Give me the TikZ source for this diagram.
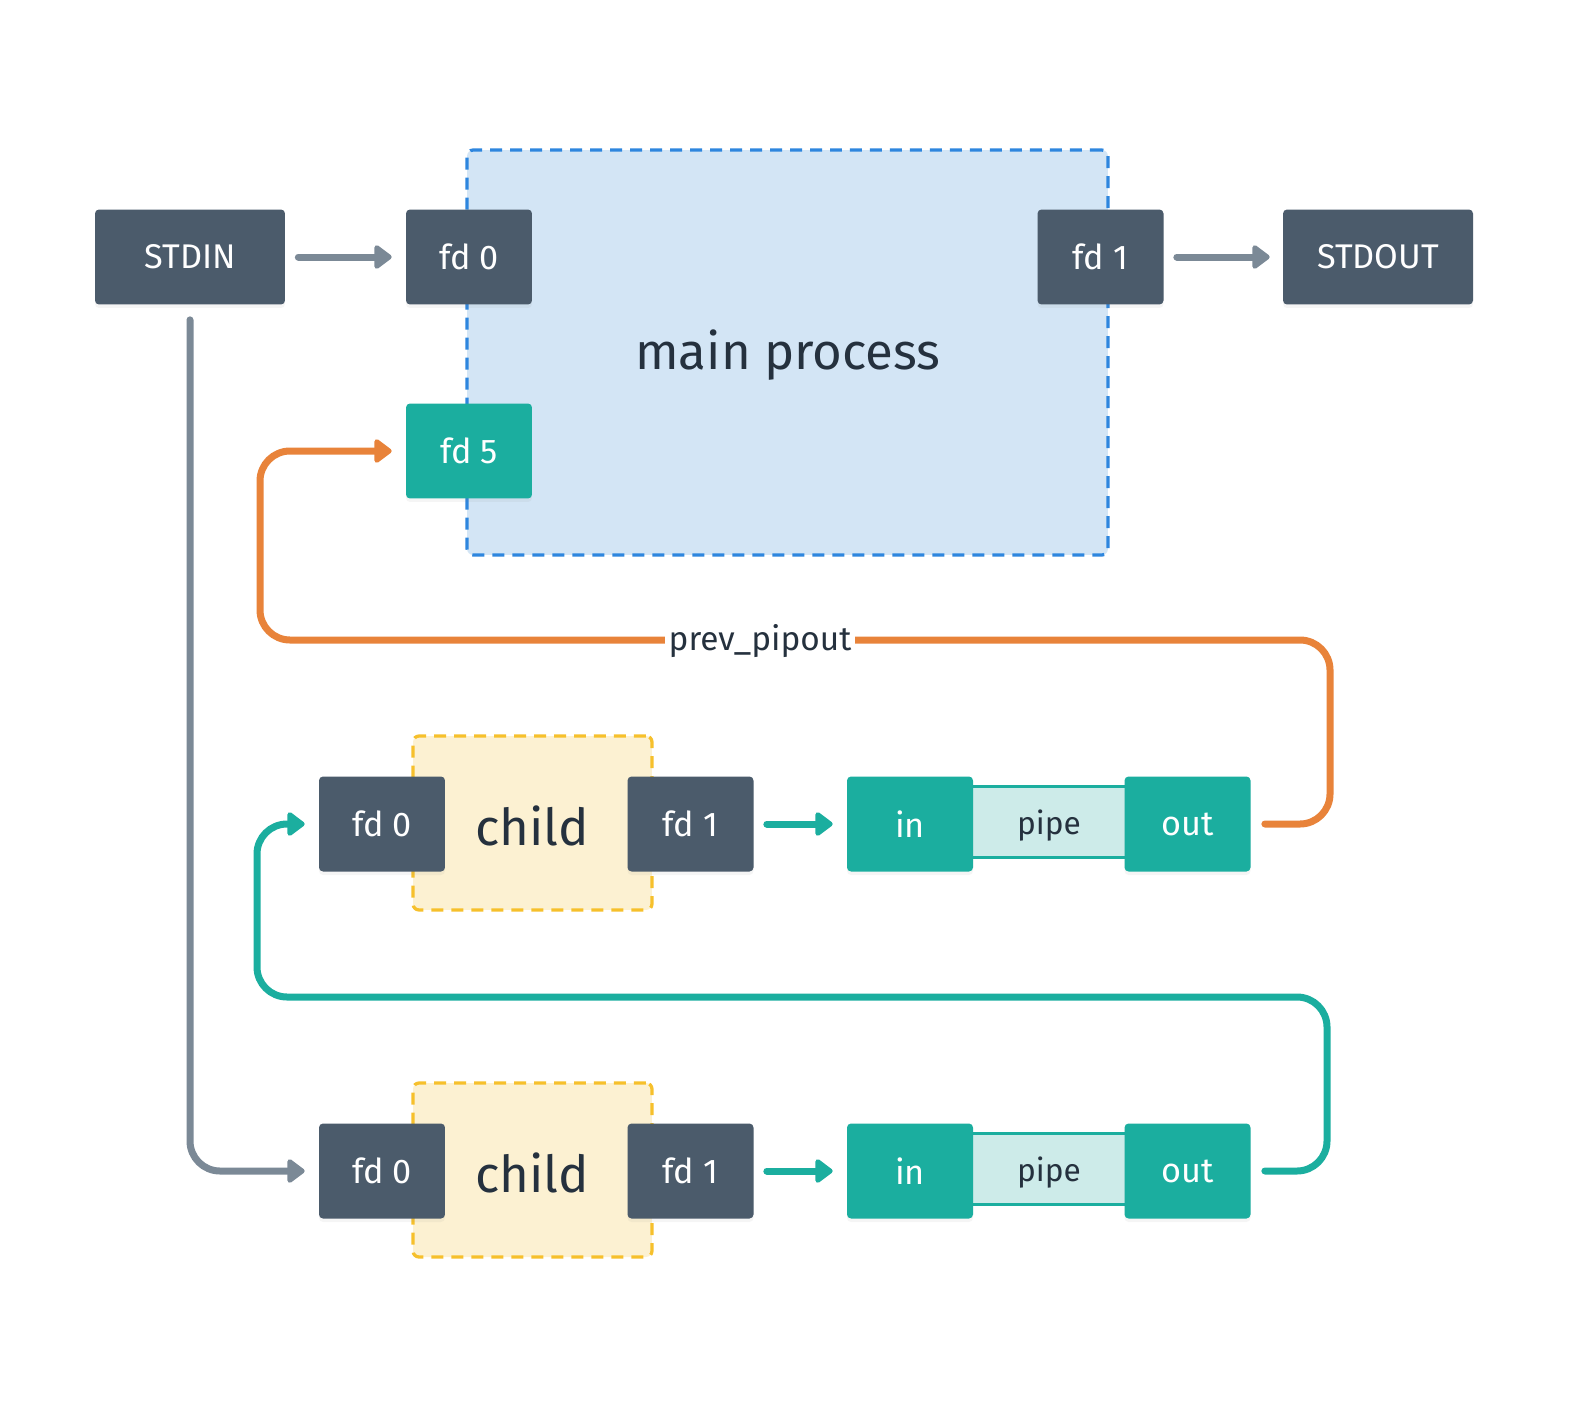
\documentclass[tikz,border=0pt]{standalone}
\usepackage{fontspec}
\setmainfont{Fira Sans}
\usetikzlibrary{arrows.meta,shadows}
\definecolor{darkbox}{HTML}{4B5B6B}
\definecolor{tealc}{HTML}{1BAE9F}
\definecolor{orangec}{HTML}{E8833A}
\definecolor{grayc}{HTML}{7B8996}
\definecolor{bluedash}{HTML}{2E86DE}
\definecolor{bluefill}{HTML}{D3E5F5}
\definecolor{yeldash}{HTML}{F6C02C}
\definecolor{yelfill}{HTML}{FCF1D2}
\definecolor{pipefill}{HTML}{CDEBE9}
\definecolor{textdark}{HTML}{25313E}
\tikzset{
  box/.style={rectangle, rounded corners=0.08cm, minimum width=2.52cm, minimum height=1.9cm,
    text=white, font=\fontsize{19.5}{24}\selectfont, inner sep=0pt,
    drop shadow={opacity=0.08, shadow xshift=0cm, shadow yshift=-0.07cm}},
  darknode/.style={box, fill=darkbox},
  tealnode/.style={box, fill=tealc},
  conn/.style={line width=0.14cm, line cap=round, rounded corners=0.6cm,
    -{Triangle[length=0.38cm, width=0.54cm, round]}},
  procbox/.style={rectangle, rounded corners=0.12cm, line width=0.065cm,
    dash pattern=on 0.24cm off 0.16cm},
  pipebox/.style={rectangle, fill=pipefill, draw=tealc, line width=0.07cm, minimum width=3.2cm,
    minimum height=1.42cm, text=textdark, text depth=0pt, font=\fontsize{18}{22}\selectfont},
}
\begin{document}
\begin{tikzpicture}[x=0.02cm, y=-0.02cm]
% main process
\node[procbox, draw=bluedash, fill=bluefill, minimum width=12.82cm, minimum height=8.1cm] (main) at (787.5,352.5) {};
\node[text=textdark, font=\fontsize{29}{34}\selectfont] (maintxt) at (788,355) {main process};
% child boxes
\node[procbox, draw=yeldash, fill=yelfill, minimum width=4.78cm, minimum height=3.48cm] (child1) at (532.5,823) {};
\node[text=textdark, font=\fontsize{29}{34}\selectfont] (child1txt) at (532,826) {child};
\node[procbox, draw=yeldash, fill=yelfill, minimum width=4.78cm, minimum height=3.48cm] (child2) at (532.5,1170) {};
\node[text=textdark, font=\fontsize{29}{34}\selectfont] (child2txt) at (532,1173) {child};
% pipes
\node[pipebox] (pipe1) at (1049,822) {pipe};
\node[pipebox] (pipe2) at (1049,1169) {pipe};
% top row
\node[darknode, minimum width=3.8cm] (stdin) at (190,257) {STDIN};
\node[darknode] (fd0) at (469,257) {fd 0};
\node[darknode] (fd1) at (1100.5,257) {fd 1};
\node[darknode, minimum width=3.8cm] (stdout) at (1378,257) {STDOUT};
\node[tealnode] (fd5) at (469,451) {fd 5};
% child 1 row
\node[darknode] (c1fd0) at (382,824) {fd 0};
\node[darknode] (c1fd1) at (690.5,824) {fd 1};
\node[tealnode] (in1) at (910,824) {in};
\node[tealnode] (out1) at (1187.5,824) {out};
% child 2 row
\node[darknode] (c2fd0) at (382,1171) {fd 0};
\node[darknode] (c2fd1) at (690.5,1171) {fd 1};
\node[tealnode] (in2) at (910,1171) {in};
\node[tealnode] (out2) at (1187.5,1171) {out};
% connectors
\draw[conn, grayc] ([xshift=0.26cm]stdin.east) -- ([xshift=-0.28cm]fd0.west);
\draw[conn, grayc] ([xshift=0.26cm]fd1.east) -- ([xshift=-0.26cm]stdout.west);
\draw[conn, grayc] ([yshift=-0.3cm]stdin.south) |- ([xshift=-0.28cm]c2fd0.west);
\draw[conn, tealc] ([xshift=0.26cm]c1fd1.east) -- ([xshift=-0.28cm]in1.west);
\draw[conn, tealc] ([xshift=0.26cm]c2fd1.east) -- ([xshift=-0.28cm]in2.west);
\draw[conn, orangec] ([xshift=0.28cm]out1.east) -| (1330,640) -| (260,451) -- ([xshift=-0.28cm]fd5.west);
\node[fill=white, inner xsep=0.08cm, inner ysep=0.05cm, text=textdark, font=\fontsize{19}{22}\selectfont] (prevlbl) at (760,641) {prev\_pipout};
\draw[conn, tealc] ([xshift=0.28cm]out2.east) -| (1327,997) -| (257,824) -- ([xshift=-0.28cm]c1fd0.west);
\pgfresetboundingbox
\useasboundingbox (0,0) rectangle (1584,1416);
\end{tikzpicture}
\end{document}
